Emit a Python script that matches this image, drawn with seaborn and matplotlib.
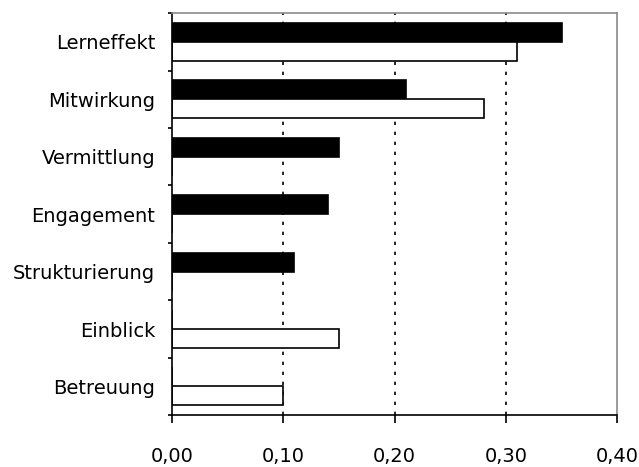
import pandas as pd
import seaborn as sns
import matplotlib.pyplot as plt
from matplotlib.ticker import FixedLocator, FuncFormatter

kategorien = ['Lerneffekt', 'Mitwirkung', 'Vermittlung', 'Engagement',
              'Strukturierung', 'Einblick', 'Betreuung']
werte_schwarz = [0.35, 0.21, 0.15, 0.14, 0.11, 0.0, 0.0]
werte_weiss = [0.31, 0.28, 0.0, 0.0, 0.0, 0.15, 0.10]
reihen = ['Reihe 1', 'Reihe 2']
x_ticks = [0.0, 0.1, 0.2, 0.3, 0.4]

df = pd.DataFrame({
    'kategorie': kategorien * 2,
    'wert': werte_schwarz + werte_weiss,
    'reihe': [reihen[0]] * len(kategorien) + [reihen[1]] * len(kategorien),
})

sns.set_style('white')
plt.rcParams['font.family'] = ['DejaVu Sans']
plt.rcParams['text.color'] = 'black'
plt.rcParams['xtick.color'] = 'black'
plt.rcParams['ytick.color'] = 'black'

fig = plt.figure(figsize=(6.39, 4.67), dpi=100)
ax = fig.add_axes([0.269, 0.111, 0.697, 0.861])

sns.barplot(data=df, x='wert', y='kategorie', hue='reihe', orient='h',
            order=kategorien, hue_order=reihen,
            palette=['black', 'white'], edgecolor='black', linewidth=1.2,
            width=0.66, dodge=True, legend=False, ax=ax)

ax.set_xlim(0, 0.4)
ax.set_ylim(len(kategorien) - 0.5, -0.5)
ax.set_xticks(x_ticks)
ax.xaxis.set_major_formatter(FuncFormatter(lambda v, p: f'{v:.2f}'.replace('.', ',')))
for xv in x_ticks[1:-1]:
    ax.axvline(xv, color='black', linestyle=(0, (2, 4)), linewidth=1.2, zorder=0)

ax.yaxis.set_minor_locator(FixedLocator([i - 0.5 for i in range(len(kategorien) + 1)]))
ax.tick_params(axis='y', which='major', length=0, pad=12, labelsize=14,
               labelcolor='black')
ax.tick_params(axis='y', which='minor', left=True, length=3, width=1.2, color='black')
ax.tick_params(axis='x', which='major', bottom=True, length=6, width=1.2,
               color='black', pad=17, labelsize=14, labelcolor='black')
for lbl in ax.get_yticklabels():
    lbl.set_va('center_baseline')

ax.set_xlabel('')
ax.set_ylabel('')
for s in ['left', 'bottom']:
    ax.spines[s].set_color('black')
    ax.spines[s].set_linewidth(1.2)
for s in ['top', 'right']:
    ax.spines[s].set_color('#8a8a8a')
    ax.spines[s].set_linewidth(1.2)

fig.savefig('out.png', dpi=100, facecolor='white')
